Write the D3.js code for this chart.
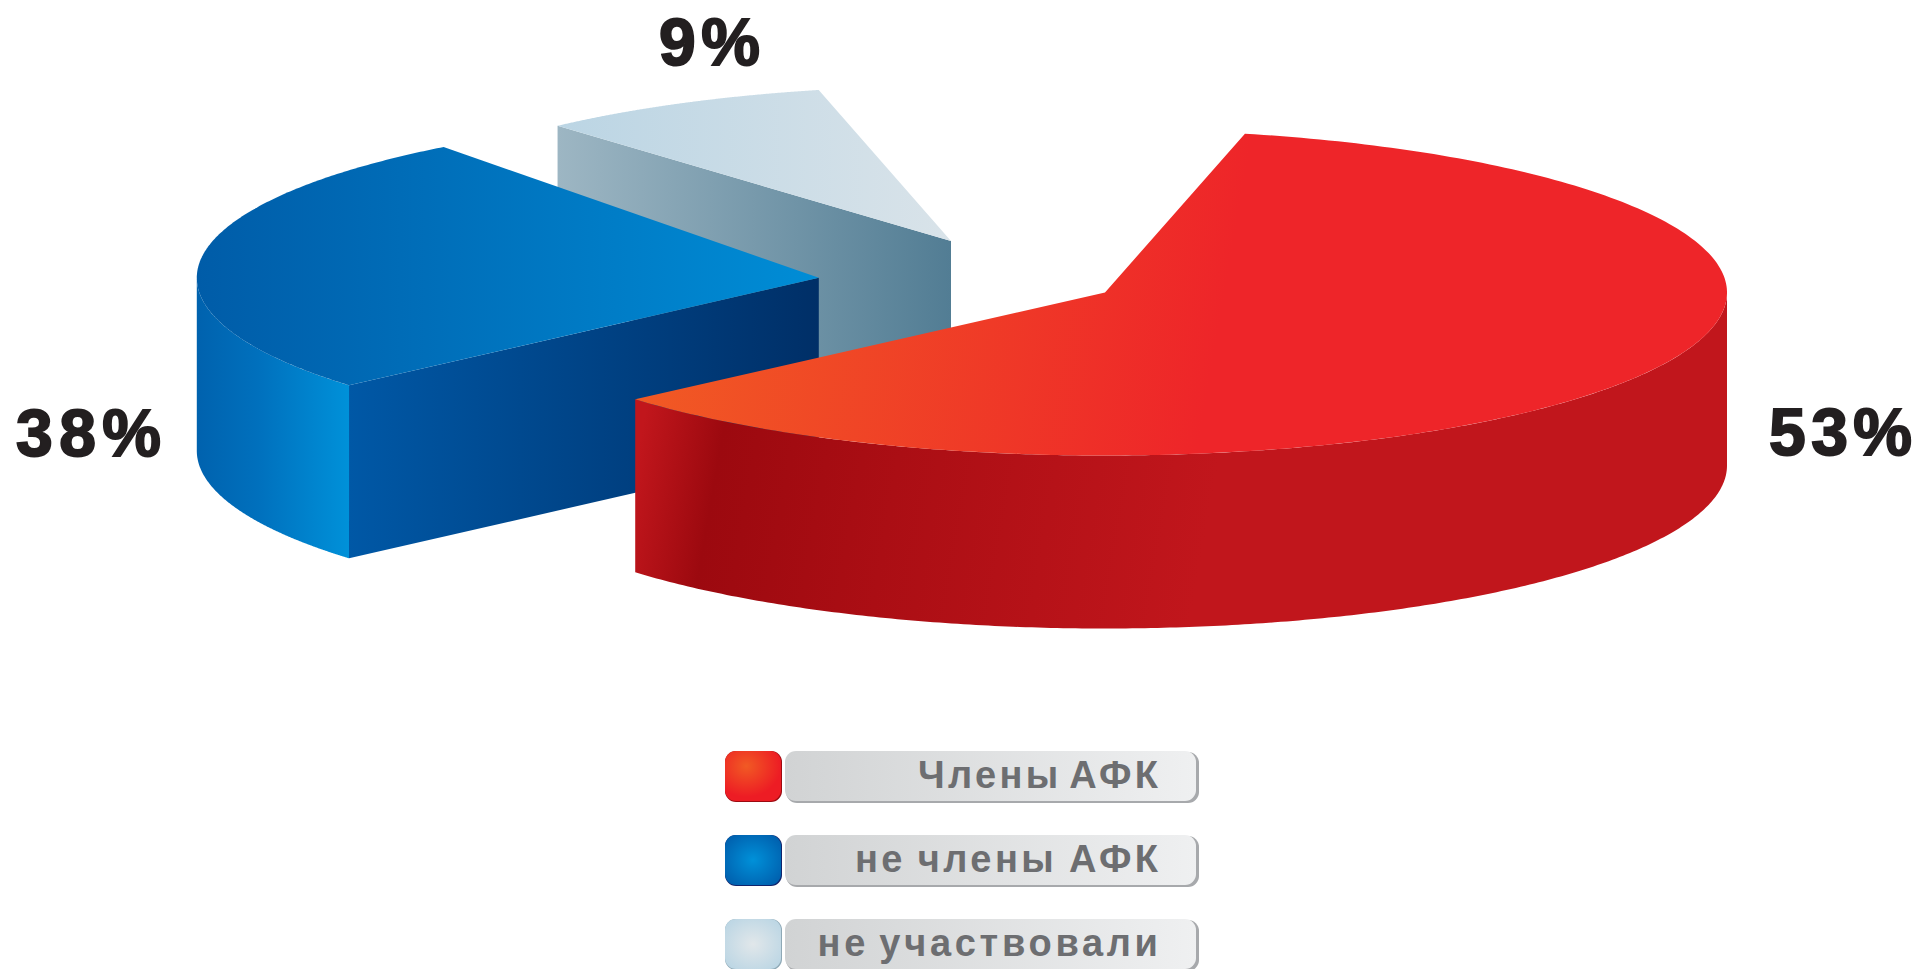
<!DOCTYPE html>
<html><head><meta charset="utf-8">
<script src="https://cdnjs.cloudflare.com/ajax/libs/d3/7.8.5/d3.min.js"></script>
<style>html,body{margin:0;padding:0;background:#fff;overflow:hidden}svg{display:block}</style>
</head><body><svg id="c" width="1919" height="969"></svg>
<script>
const categories = ["Члены АФК", "не члены АФК", "не участвовали"];
const shares = [53, 38, 9];

const W = 1919, H = 969, DEPTH = 173;
const svg = d3.select("#c"), defs = svg.append("defs");

// The drawing is not to scale: each wedge's share is mapped onto the sweep it has in the picture.
const sliceShape = [
  {cx:1105, cy:292.5, rx:622, ry:163, from:13,   to:229.05},
  {cx:818.8,cy:277.8, rx:622, ry:164, from:229.05,to:322.9},
  {cx:951,  cy:241,   rx:588, ry:155, from:318,  to:347}
];
const slices = shares.map((v,i)=>{
  const s = sliceShape[i];
  return {...s, name:categories[i], value:v,
    angle:d3.scaleLinear().domain([0,v]).range([s.from,s.to]),
    sx:d3.scaleLinear().domain([-1,1]).range([s.cx-s.rx,s.cx+s.rx]),
    sy:d3.scaleLinear().domain([-1,1]).range([s.cy+s.ry,s.cy-s.ry])};
});
const rad = d => d*Math.PI/180;
const rim = (s,deg,dy=0) => [s.sx(Math.sin(rad(deg))), s.sy(Math.cos(rad(deg)))+dy];
const line = d3.line();
const sweep = (a,b,n=240) => d3.range(n+1).map(i=>a+(b-a)*i/n);

function grad(id,x1,y1,x2,y2,stops){
  const g = defs.append("linearGradient").attr("id",id).attr("gradientUnits","userSpaceOnUse")
    .attr("x1",x1).attr("y1",y1).attr("x2",x2).attr("y2",y2);
  g.selectAll("stop").data(stops).join("stop").attr("offset",d=>d[0]).attr("stop-color",d=>d[1]);
}
grad("rTop",635,399,1190,495,[[0,"#f15a24"],[1,"#ee2529"]]);
grad("rSide",635,470,1200,568,[[0,"#c1161c"],[.14,"#9c090f"],[.45,"#ab0e14"],[1,"#c1161c"]]);
grad("bTop",197,0,819,0,[[0,"#005ca8"],[1,"#008dd6"]]);
grad("bCut",349,0,819,0,[[0,"#0058a6"],[1,"#002f67"]]);
grad("bSide",197,0,349,0,[[0,"#0062ae"],[.4,"#0070bd"],[1,"#0091d9"]]);
grad("lTop",558,0,951,0,[[0,"#bbd5e4"],[1,"#d9e3e9"]]);
grad("lCut",558,0,951,0,[[0,"#9db6c3"],[1,"#527d94"]]);

const drawOrder = [2,1,0];
const fills = {
  0:{top:"url(#rTop)",side:"url(#rSide)",cut:null,sideSweep:[90,229.05]},
  1:{top:"url(#bTop)",side:"url(#bSide)",cut:"url(#bCut)",sideSweep:[229.05,270],cutAt:229.05},
  2:{top:"url(#lTop)",side:null,cut:"url(#lCut)",cutAt:318}
};
const g = svg.append("g");
drawOrder.forEach(i=>{
  const s = slices[i], f = fills[i];
  const apex = [s.cx,s.cy];
  if(f.cut){
    const p = rim(s,f.cutAt);
    g.append("path").attr("d",line([p,apex,[apex[0],apex[1]+DEPTH],[p[0],p[1]+DEPTH]])+"Z").attr("fill",f.cut);
  }
  if(f.side){
    const a = sweep(f.sideSweep[0],f.sideSweep[1]);
    const pts = a.map(d=>rim(s,d)).concat(a.slice().reverse().map(d=>rim(s,d,DEPTH)));
    g.append("path").attr("d",line(pts)+"Z").attr("fill",f.side);
  }
  const arc = sweep(s.angle(0),s.angle(s.value)).map(d=>rim(s,d));
  g.append("path").attr("d",line([apex,...arc])+"Z").attr("fill",f.top);
});

// Percent labels
const labelPos = [[1768,456,145],[15,457,147],[658,66,103]];
svg.append("g").selectAll("text").data(slices).join("text")
  .attr("x",(d,i)=>labelPos[i][0]+1).attr("y",(d,i)=>labelPos[i][1]-1)
  .attr("textLength",(d,i)=>labelPos[i][2]-2).attr("lengthAdjust","spacing")
  .attr("font-family","'Liberation Sans'").attr("font-weight",700).attr("font-size",66)
  .attr("fill","#231f20").attr("stroke","#231f20").attr("stroke-width",2)
  .text(d=>d.value+"%");

// Legend
const rowY = d3.scalePoint().domain(categories).range([751,919]);
const swatch = [
  {c0:"#f15a24",c1:"#ed1c24",sh:"#9c0a10",fx:.38,fy:.3},
  {c0:"#0091d9",c1:"#0060ae",sh:"#12246b",fx:.5,fy:.5},
  {c0:"#e1e7ea",c1:"#bcd6e4",sh:"#8fa9b6",fx:.5,fy:.5}
];
swatch.forEach((s,i)=>{
  const r = defs.append("radialGradient").attr("id","sw"+i).attr("cx",s.fx).attr("cy",s.fy).attr("r",.62);
  r.append("stop").attr("offset",0).attr("stop-color",s.c0);
  r.append("stop").attr("offset",1).attr("stop-color",s.c1);
});
grad("bar",785,0,1198,0,[[0,"#d1d3d4"],[1,"#eff0f1"]]);
const rows = svg.append("g").selectAll("g").data(categories).join("g")
  .attr("transform",d=>`translate(0,${rowY(d)})`);
rows.append("rect").attr("x",725).attr("y",0).attr("width",57).attr("height",51).attr("rx",11)
  .attr("fill",(d,i)=>swatch[i].sh);
rows.append("rect").attr("x",725).attr("y",0).attr("width",56).attr("height",50).attr("rx",11)
  .attr("fill",(d,i)=>`url(#sw${i})`);
rows.append("rect").attr("x",786).attr("y",1).attr("width",413).attr("height",51).attr("rx",11).attr("fill","#a7a9ac");
rows.append("rect").attr("x",785).attr("y",0).attr("width",411).attr("height",50).attr("rx",11).attr("fill","url(#bar)");
const legendSpacing = [3.3,3.4,3.7], legendWordGap = [-6,-2,-4];
rows.append("text").attr("x",(d,i)=>1158+legendSpacing[i]).attr("y",37).attr("text-anchor","end")
  .attr("font-family","'Liberation Sans'").attr("font-weight",700).attr("font-size",38)
  .attr("letter-spacing",(d,i)=>legendSpacing[i]).attr("word-spacing",(d,i)=>legendWordGap[i])
  .attr("fill","#6d6e71").text(d=>d);
</script></body></html>
